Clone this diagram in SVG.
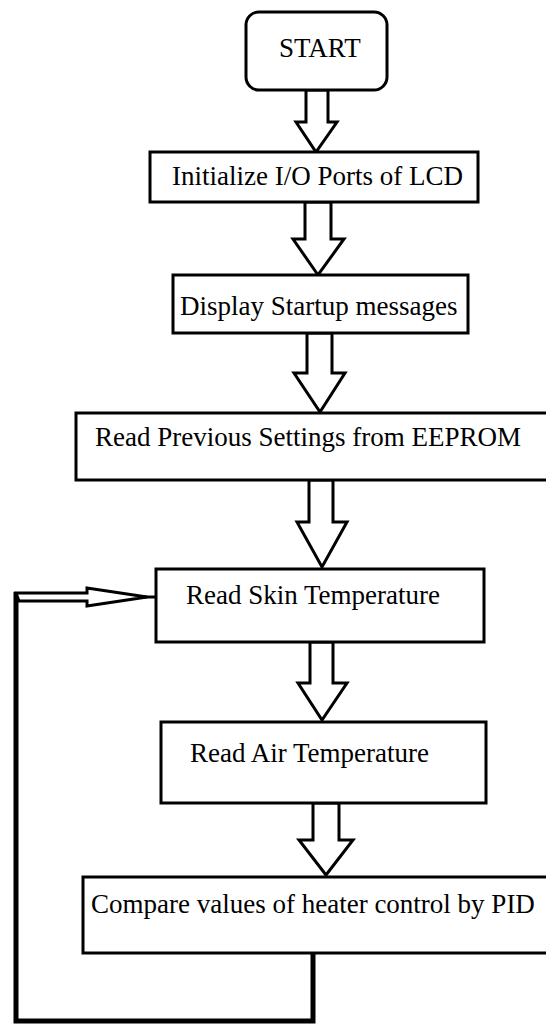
<svg xmlns="http://www.w3.org/2000/svg" width="546" height="1025" viewBox="0 0 546 1025">
  <style>
    .box { fill: #fff; stroke: #000; stroke-width: 3; }
    .lbl { font-family: "Liberation Serif", "Times New Roman", serif; font-size: 27px; fill: #000; }
    .arrow { fill: #fff; stroke: #000; stroke-width: 3; stroke-linejoin: miter; }
    .wire { fill: none; stroke: #000; stroke-width: 5; stroke-linejoin: miter; }
  </style>
  <rect width="546" height="1025" fill="#fff"/>

  <!-- flow connectors -->
  <g id="connectors">
    <polygon class="arrow" points="306,90 328,90 328,122 337,122 316,152 296,122 306,122"/>
    <polygon class="arrow" points="305,202 331,202 331,239 344,239 318,275 293,239 305,239"/>
    <polygon class="arrow" points="307,333 332,333 332,373 345,373 320,412 294,373 307,373"/>
    <polygon class="arrow" points="309,480 333,480 333,522 347,522 322,567 297,522 309,522"/>
    <polygon class="arrow" points="310,642 333,642 333,683 347,683 322,720 298,683 310,683"/>
    <polygon class="arrow" points="313,803 339,803 339,840 353,840 326,875 299,840 313,840"/>
    <!-- feedback loop back to skin temperature -->
    <polyline class="wire" points="313,953 313,1021 16,1021 16,592"/>
    <line x1="140" y1="597" x2="161" y2="597" stroke="#000" stroke-width="3"/>
    <polygon class="arrow" points="16,593 87,593 87,588 147,597 87,606 87,601 19,601"/>
  </g>

  <g id="start">
    <rect class="box" x="246" y="12" width="141" height="78" rx="13" ry="13"/>
    <text class="lbl" x="279" y="57" font-size="26">START</text>
  </g>

  <g id="init-lcd">
    <rect class="box" x="150" y="152" width="328" height="50"/>
    <text class="lbl" x="172" y="185">Initialize I/O Ports of LCD</text>
  </g>

  <g id="startup-msg">
    <rect class="box" x="173" y="275" width="295" height="58"/>
    <text class="lbl" x="180" y="315">Display Startup messages</text>
  </g>

  <g id="read-eeprom">
    <rect class="box" x="76" y="413" width="480" height="67"/>
    <text class="lbl" x="95" y="446">Read Previous Settings from EEPROM</text>
  </g>

  <g id="read-skin">
    <rect class="box" x="156" y="569" width="328" height="73"/>
    <text class="lbl" x="186" y="604">Read Skin Temperature</text>
  </g>

  <g id="read-air">
    <rect class="box" x="161" y="722" width="325" height="81"/>
    <text class="lbl" x="190" y="762">Read Air Temperature</text>
  </g>

  <g id="pid-compare">
    <rect class="box" x="83" y="877" width="480" height="76"/>
    <text class="lbl" x="91" y="913">Compare values of heater control by PID</text>
  </g>
</svg>
